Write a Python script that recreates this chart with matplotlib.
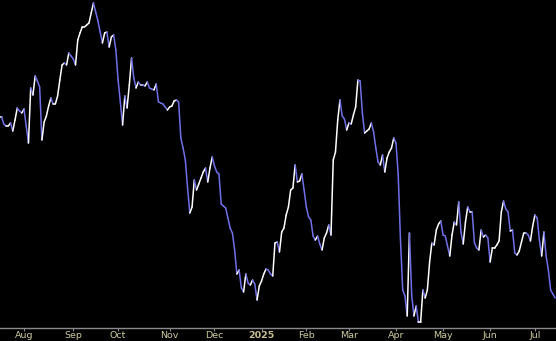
import numpy as np
import pandas as pd
import matplotlib
matplotlib.use('Agg')
import matplotlib.pyplot as plt
from matplotlib.collections import LineCollection

# trading calendar (NYSE holidays in the window)
start_date = '2024-07-17'
end_date = '2025-07-15'
holidays = ['2024-09-02', '2024-11-28', '2024-12-25', '2025-01-01', '2025-01-09',
            '2025-01-20', '2025-02-17', '2025-04-18', '2025-05-26', '2025-06-19',
            '2025-07-04']

# daily closes (arbitrary units)
close = [
    211, 211, 204, 202, 202, 205, 197, 208, 220, 217, 215, 219, 202, 185, 240, 233,
    252, 247, 241, 188, 206, 212, 222, 230, 224, 224, 232, 248, 263, 265, 263, 275,
    272, 269, 263, 288, 295, 301, 301, 303, 305, 315, 325, 316, 307, 296, 285, 295,
    296, 281, 291, 293, 278, 248, 226, 203, 232, 220, 243, 270, 250, 240, 246, 243,
    243, 242, 246, 240, 239, 238, 244, 226, 225, 224, 221, 218, 221, 222, 227, 228,
    226, 190, 180, 168, 140, 115, 121, 148, 138, 144, 150, 156, 160, 146, 160, 171,
    162, 156, 154, 124, 122, 120, 110, 100, 95, 78, 54, 58, 40, 36, 54, 45,
    43, 48, 44, 28, 42, 47, 54, 59, 58, 54, 52, 85, 86, 76, 96, 100,
    113, 121, 138, 140, 163, 146, 147, 154, 138, 121, 111, 108, 92, 88, 92, 84,
    78, 90, 95, 103, 93, 168, 176, 208, 228, 212, 209, 198, 205, 204, 213, 221,
    248, 247, 215, 195, 197, 199, 205, 196, 180, 166, 163, 173, 156, 170, 176, 180,
    190, 185, 153, 88, 38, 32, 12, 95, 33, 12, 22, 6, 6, 38, 30, 38,
    66, 85, 83, 98, 104, 107, 93, 92, 82, 72, 93, 106, 103, 126, 96, 84,
    106, 121, 116, 116, 85, 80, 78, 98, 91, 93, 90, 66, 80, 80, 83, 87,
    116, 127, 119, 116, 97, 98, 75, 73, 77, 86, 95, 95, 93, 87, 102, 113,
    110, 88, 72, 96, 72, 58, 38, 34, 30,
]

up_color = '#ffffff'
down_color = '#6f6fe8'
label_color = '#cdcb9b'
year_color = '#c8c08c'

dates = pd.bdate_range(start_date, end_date, freq='C', holidays=holidays)[:len(close)]
x = np.arange(len(close))
y = np.array(close, dtype=float)

fig = plt.figure(figsize=(5.56, 3.41), dpi=100, facecolor='black')
ax = fig.add_axes([0, 13 / 341, 1, 1 - 13 / 341])
ax.set_facecolor('black')

# segments coloured by direction
pts = np.column_stack([x, y]).reshape(-1, 1, 2)
segs = np.concatenate([pts[:-1], pts[1:]], axis=1)
cols = [up_color if b >= a else down_color for a, b in zip(y[:-1], y[1:])]
lc = LineCollection(segs, colors=cols, linewidths=1.1, capstyle='round', joinstyle='round')
ax.add_collection(lc)

ax.set_xlim(0.3, 248.4)
ax.set_ylim(0, 328)

# month ticks at first trading day of each month
month_idx = [i for i in range(1, len(dates)) if dates[i].month != dates[i - 1].month]
labels = [str(dates[i].year) if dates[i].month == 1 else dates[i].strftime('%b')
          for i in month_idx]
ax.set_xticks(month_idx)
ax.set_xticklabels(labels, fontsize=6.8)

ax.set_yticks([])
for side in ['top', 'left', 'right']:
    ax.spines[side].set_visible(False)
ax.spines['bottom'].set_color('#8a8a8a')
ax.spines['bottom'].set_linewidth(1.0)
ax.tick_params(axis='x', colors='#8a8a8a', length=2, width=0.8, pad=0.5,
               labelcolor=label_color)
for lbl, i in zip(ax.get_xticklabels(), month_idx):
    if dates[i].month == 1:
        lbl.set_fontweight('bold')
        lbl.set_color(year_color)

fig.savefig('out.png', dpi=100, facecolor='black')
